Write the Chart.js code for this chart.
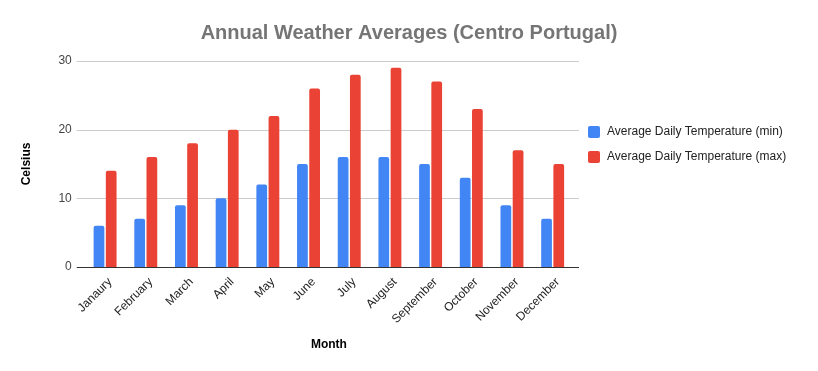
<!DOCTYPE html>
<html>
<head>
<meta charset="utf-8">
<script src="https://cdn.jsdelivr.net/npm/chart.js@4"></script>
<style>
  html, body { margin: 0; padding: 0; background: #fff; }
  #wrap { width: 818px; height: 371px; }
</style>
</head>
<body>
<div id="wrap"><canvas id="weatherChart"></canvas></div>
<script>
// Data
const months = ['Janaury', 'February', 'March', 'April', 'May', 'June', 'July', 'August', 'September', 'October', 'November', 'December'];
const tempMin = [6, 7, 9, 10, 12, 15, 16, 16, 15, 13, 9, 7];
const tempMax = [14, 16, 18, 20, 22, 26, 28, 29, 27, 23, 17, 15];
const yTicks = [0, 10, 20, 30];
const chartTitle = 'Annual Weather Averages (Centro Portugal)';

const FONT = "'Liberation Sans', Arial, sans-serif";
Chart.defaults.font.family = FONT;
Chart.defaults.color = '#444';

const barStyle = {
  borderRadius: { topLeft: 2, topRight: 2, bottomLeft: 0, bottomRight: 0 },
  borderSkipped: 'bottom',
  barPercentage: 0.88,
  categoryPercentage: 0.6
};

// Gridlines run a little past the bars on both sides, like the Sheets chart
const sheetsDecor = {
  id: 'sheetsDecor',
  beforeDatasetsDraw(chart) {
    const c = chart.ctx;
    const area = chart.chartArea;
    const y = chart.scales.y;
    const x0 = area.left - 8, x1 = area.right + 6;
    c.save();
    yTicks.forEach(v => {
      const py = Math.round(y.getPixelForValue(v)) + 0.5;
      c.strokeStyle = v === 0 ? '#333' : '#cccccc';
      c.lineWidth = 1;
      c.beginPath();
      c.moveTo(x0, py);
      c.lineTo(x1, py);
      c.stroke();
    });
    c.restore();
  },
  afterDraw(chart) {
    const c = chart.ctx;
    c.save();
    // title centred on the whole canvas
    c.font = 'bold 20px ' + FONT;
    c.fillStyle = '#757575';
    c.textAlign = 'center';
    c.textBaseline = 'middle';
    c.fillText(chartTitle, chart.width / 2, 33);

    // legend to the right of the plot
    const x = chart.chartArea.right + 15;
    let ly = 132;
    c.font = '12px ' + FONT;
    c.textAlign = 'left';
    chart.data.datasets.forEach(ds => {
      c.fillStyle = ds.backgroundColor;
      c.beginPath();
      c.roundRect(x, ly - 6, 12, 12, 2);
      c.fill();
      c.fillStyle = '#222';
      c.fillText(ds.label, x + 19, ly);
      ly += 25;
    });
    c.restore();
  }
};

const ctx = document.getElementById('weatherChart').getContext('2d');
new Chart(ctx, {
  type: 'bar',
  data: {
    labels: months,
    datasets: [
      { label: 'Average Daily Temperature (min)', data: tempMin, backgroundColor: '#4285f4', ...barStyle },
      { label: 'Average Daily Temperature (max)', data: tempMax, backgroundColor: '#ea4335', ...barStyle }
    ]
  },
  plugins: [sheetsDecor],
  options: {
    responsive: true,
    maintainAspectRatio: false,
    animation: false,
    layout: { padding: { left: 19, right: 245, top: 61, bottom: 15 } },
    plugins: {
      title: { display: false },
      legend: { display: false },
      tooltip: { enabled: false }
    },
    scales: {
      x: {
        grid: { display: false, drawTicks: false },
        border: { display: false },
        ticks: { color: '#222', font: { size: 12 }, maxRotation: 45, minRotation: 45, padding: 8, labelOffset: 5 },
        title: { display: true, text: 'Month', color: '#000', font: { size: 12, weight: 'bold' }, padding: { top: 3, bottom: 4 } }
      },
      y: {
        min: 0,
        max: 30,
        afterBuildTicks: (axis) => { axis.ticks = yTicks.map(v => ({ value: v })); },
        grid: { display: false, drawTicks: false },
        border: { display: false },
        ticks: { color: '#444', font: { size: 12 }, padding: 13 },
        title: { display: true, text: 'Celsius', color: '#000', font: { size: 12, weight: 'bold' }, padding: { top: 0, bottom: 12 } }
      }
    }
  }
});
</script>
</body>
</html>
